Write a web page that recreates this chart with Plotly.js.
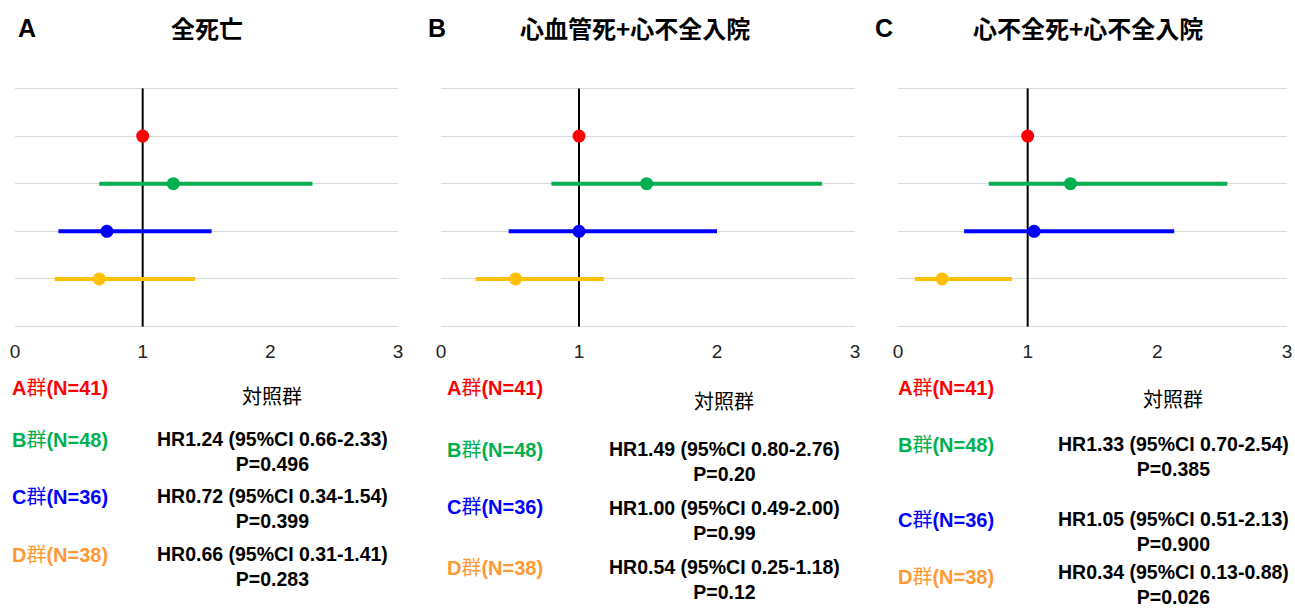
<!DOCTYPE html>
<html>
<head>
<meta charset="utf-8">
<script src="https://cdn.plot.ly/plotly-3.0.1.min.js"></script>
<style>html,body{margin:0;padding:0;background:#fff}#chart{width:1295px;height:609px}</style>
</head>
<body>
<div id="chart"></div>
<script>
// ---- data ----
const groups = ['A群', 'B群', 'C群', 'D群'];
const nCounts = [41, 48, 36, 38];
const panelLetters = ['A', 'B', 'C'];
const panelTitles = ['全死亡', '心血管死+心不全入院', '心不全死+心不全入院'];
const referenceLabel = '対照群';
const referenceHR = 1;
const xTicks = [0, 1, 2, 3];

const hrPanelA = [1, 1.24, 0.72, 0.66];
const loPanelA = [1, 0.66, 0.34, 0.31];
const hiPanelA = [1, 2.33, 1.54, 1.41];
const pPanelA = ['', '0.496', '0.399', '0.283'];

const hrPanelB = [1, 1.49, 1.00, 0.54];
const loPanelB = [1, 0.80, 0.49, 0.25];
const hiPanelB = [1, 2.76, 2.00, 1.18];
const pPanelB = ['', '0.20', '0.99', '0.12'];

const hrPanelC = [1, 1.33, 1.05, 0.34];
const loPanelC = [1, 0.70, 0.51, 0.13];
const hiPanelC = [1, 2.54, 2.13, 0.88];
const pPanelC = ['', '0.385', '0.900', '0.026'];

// ---- styling / layout ----
const W = 1295, H = 609;
const markerColors = ['#ff0000', '#00b050', '#0000ff', '#ffc000'];
const labelColors = ['#ff0000', '#00b050', '#0000ff', '#ff9933'];
const FONT = 'Liberation Sans, Arial, Noto Sans CJK JP, sans-serif';
const px = x => x / W;
const py = y => 1 - y / H;

const panels = [
  {hr: hrPanelA, lo: loPanelA, hi: hiPanelA, p: pPanelA,
   dom: [15, 398], letterX: 27, titleX: 207, labelX: 10,
   textX: 272, labelY: [388, 440, 497, 555], textY: [397, 451.5, 508.5, 566.5]},
  {hr: hrPanelB, lo: loPanelB, hi: hiPanelB, p: pPanelB,
   dom: [441, 855], letterX: 437, titleX: 635, labelX: 445,
   textX: 724, labelY: [388, 450, 507, 568], textY: [402, 461.5, 520, 579]},
  {hr: hrPanelC, lo: loPanelC, hi: hiPanelC, p: pPanelC,
   dom: [898, 1287], letterX: 884, titleX: 1088, labelX: 896,
   textX: 1173, labelY: [388, 445, 520, 577], textY: [400, 456.5, 531.5, 584.5]}
];

const plotTop = 86, plotBottom = 329;
const yMax = groups.length + 1;
const yPad = 0.05;
const data = [];
const annotations = [];
const layout = {
  width: W, height: H,
  margin: {l: 0, r: 0, t: 0, b: 0},
  paper_bgcolor: '#ffffff', plot_bgcolor: '#ffffff',
  showlegend: false,
  font: {family: FONT, color: '#000'}
};

panels.forEach((pn, k) => {
  const sfx = k === 0 ? '' : String(k + 1);
  const xa = 'x' + sfx, ya = 'y' + sfx;
  // reference line at HR = 1
  data.push({
    type: 'scatter', mode: 'lines',
    x: [referenceHR, referenceHR], y: [0, yMax],
    xaxis: xa, yaxis: ya,
    line: {color: '#000', width: 2}, hoverinfo: 'skip', cliponaxis: false
  });
  groups.forEach((g, i) => {
    const yPos = groups.length - i;
    data.push({
      type: 'scatter', mode: 'markers',
      x: [pn.hr[i]], y: [yPos],
      xaxis: xa, yaxis: ya,
      marker: {color: markerColors[i], size: 13},
      error_x: {type: 'data', symmetric: false,
        array: [pn.hi[i] - pn.hr[i]], arrayminus: [pn.hr[i] - pn.lo[i]],
        color: markerColors[i], thickness: 4, width: 0,
        visible: i > 0},
      cliponaxis: false, hoverinfo: 'x'
    });
  });
  layout['xaxis' + sfx] = {
    domain: [px(pn.dom[0]), px(pn.dom[1])], anchor: ya,
    range: [0, 3], tickvals: xTicks, ticktext: xTicks.map(String),
    showgrid: false, zeroline: false, showline: false,
    ticks: '', ticklabelstandoff: 9,
    tickfont: {family: FONT, size: 19, color: '#222'}, fixedrange: true
  };
  layout['yaxis' + sfx] = {
    domain: [py(plotBottom), py(plotTop)], anchor: xa,
    range: [-yPad, yMax + yPad], dtick: 1, tick0: 0,
    showgrid: true, gridcolor: '#d9d9d9', gridwidth: 1,
    zeroline: true, zerolinecolor: '#d9d9d9', zerolinewidth: 1,
    showline: false, showticklabels: false, ticks: '', fixedrange: true
  };

  annotations.push({text: '<b>' + panelLetters[k] + '</b>', xref: 'paper', yref: 'paper',
    x: px(pn.letterX), y: py(28), xanchor: 'center', yanchor: 'middle', showarrow: false,
    font: {family: FONT, size: 25, color: '#000'}});
  annotations.push({text: '<b>' + panelTitles[k] + '</b>', xref: 'paper', yref: 'paper',
    x: px(pn.titleX), y: py(28), xanchor: 'center', yanchor: 'middle', showarrow: false,
    font: {family: 'Noto Sans CJK JP, ' + FONT, size: 24, color: '#000'}});

  groups.forEach((g, i) => {
    annotations.push({text: '<b>' + g.charAt(0) + '</b>' + g.slice(1) + '<b>(N=' + nCounts[i] + ')</b>',
      xref: 'paper', yref: 'paper', x: px(pn.labelX), y: py(pn.labelY[i]),
      xanchor: 'left', yanchor: 'middle', showarrow: false,
      font: {family: FONT, size: 20, color: labelColors[i]}});
    let txt, size;
    if (i === 0) {
      txt = referenceLabel; size = 20;
    } else {
      txt = '<b>HR' + pn.hr[i].toFixed(2) + ' (95%CI ' + pn.lo[i].toFixed(2) + '-' +
        pn.hi[i].toFixed(2) + ')<br>P=' + pn.p[i] + '</b>';
      size = 19.5;
    }
    annotations.push({text: txt, xref: 'paper', yref: 'paper', x: px(pn.textX), y: py(pn.textY[i]),
      xanchor: 'center', yanchor: 'middle', align: 'center', showarrow: false,
      font: {family: FONT, size: size, color: '#000'}});
  });
});

layout.annotations = annotations;
Plotly.newPlot('chart', data, layout, {displayModeBar: false, staticPlot: true});
</script>
</body>
</html>
